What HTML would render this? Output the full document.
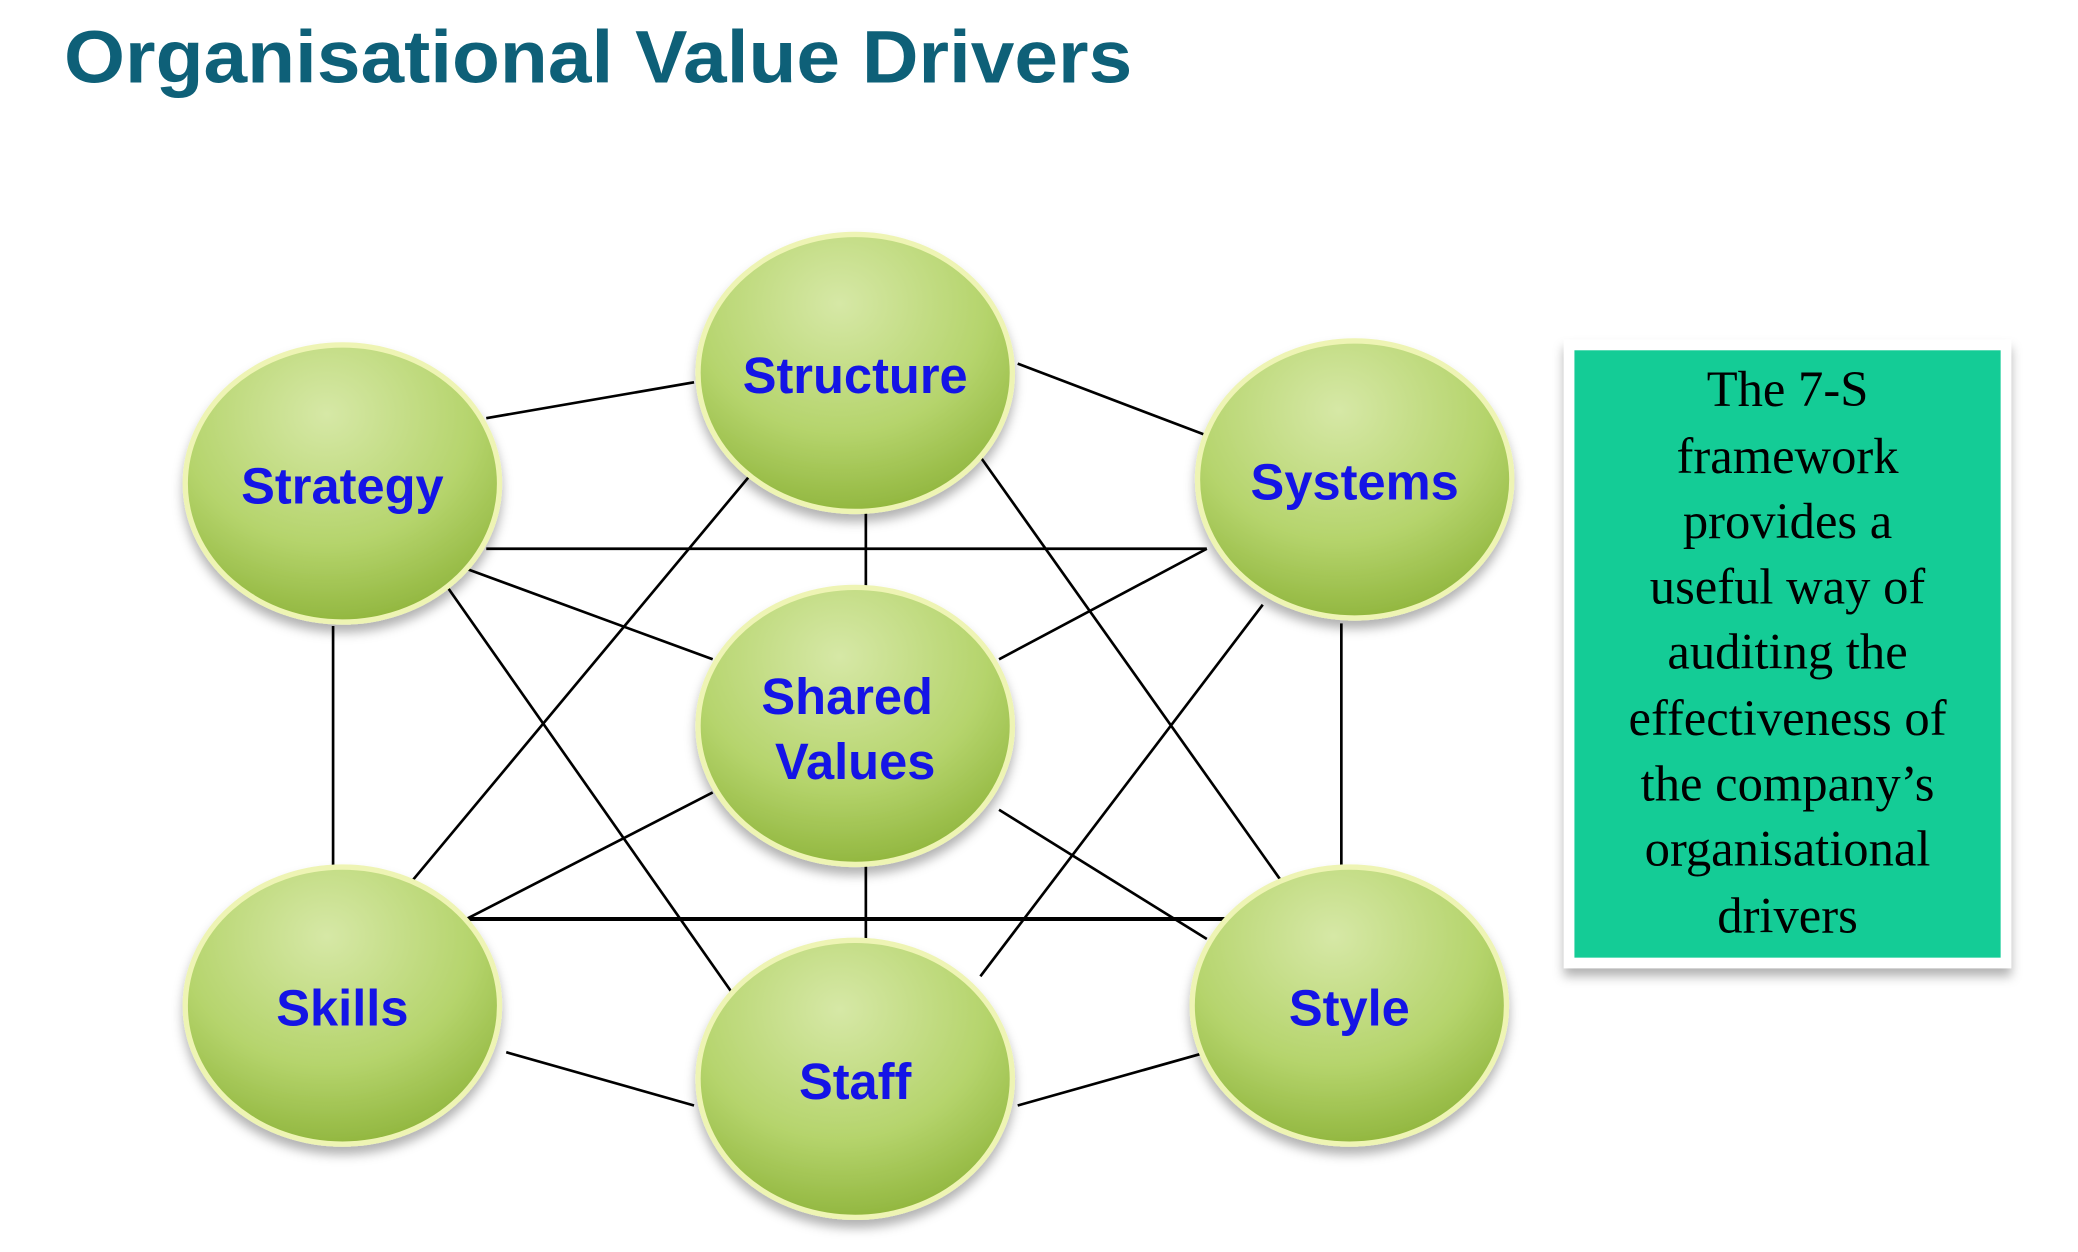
<!DOCTYPE html>
<html><head><meta charset="utf-8"><style>
html,body{margin:0;padding:0;background:#fff;}
svg{display:block;}
</style></head><body>
<svg width="2078" height="1252" viewBox="0 0 1560 940" xmlns="http://www.w3.org/2000/svg">
<defs>
<radialGradient id="g" cx="0.45" cy="0.25" r="0.85">
<stop offset="0" stop-color="#d6e8a6"/>
<stop offset="0.55" stop-color="#b5d46c"/>
<stop offset="1" stop-color="#86ad30"/>
</radialGradient>
<filter id="sh" x="-20%" y="-20%" width="140%" height="150%">
<feDropShadow dx="0" dy="6" stdDeviation="4" flood-color="#000" flood-opacity="0.3"/>
</filter>
</defs>
<text x="48" y="62" font-family="Liberation Sans, sans-serif" font-weight="bold" font-size="56" fill="#0e6078" textLength="802" lengthAdjust="spacingAndGlyphs">Organisational Value Drivers</text>
<g stroke="#000" stroke-width="2" fill="none">
<line x1="365" y1="314" x2="521" y2="287"/>
<line x1="764" y1="273" x2="906" y2="327"/>
<line x1="365" y1="412" x2="906" y2="412"/>
<line x1="350" y1="427" x2="535" y2="495"/>
<line x1="906" y1="412" x2="750" y2="495"/>
<line x1="650" y1="385" x2="650" y2="440"/>
<line x1="250" y1="470" x2="250" y2="650"/>
<line x1="1007" y1="468" x2="1007" y2="650"/>
<line x1="563" y1="357" x2="308" y2="663"/>
<line x1="736" y1="343" x2="963" y2="663"/>
<line x1="336" y1="441" x2="550" y2="746"/>
<line x1="948" y1="454" x2="736" y2="733"/>
<line x1="535" y1="595" x2="350" y2="690"/>
<line x1="750" y1="608" x2="906" y2="705"/>
<line x1="350" y1="690" x2="920" y2="690" stroke-width="3"/>
<line x1="650" y1="650" x2="650" y2="705"/>
<line x1="380" y1="790" x2="521" y2="830"/>
<line x1="764" y1="830" x2="906" y2="790"/>
</g>
<g fill="url(#g)" stroke="#eef4b4" stroke-width="4" filter="url(#sh)">
<ellipse cx="642" cy="280" rx="118" ry="104"/>
<ellipse cx="257" cy="363" rx="118" ry="104"/>
<ellipse cx="1017" cy="360" rx="118" ry="104"/>
<ellipse cx="642" cy="545" rx="118" ry="104"/>
<ellipse cx="257" cy="755" rx="118" ry="104"/>
<ellipse cx="642" cy="810" rx="118" ry="104"/>
<ellipse cx="1013" cy="755" rx="118" ry="104"/>
</g>
<g font-family="Liberation Sans, sans-serif" font-weight="bold" font-size="38" fill="#1414e6" text-anchor="middle">
<text x="642" y="295">Structure</text>
<text x="257" y="378">Strategy</text>
<text x="1017" y="375">Systems</text>
<text x="636" y="536">Shared</text>
<text x="642" y="585">Values</text>
<text x="257" y="770">Skills</text>
<text x="642" y="825">Staff</text>
<text x="1013" y="770">Style</text>
</g>
<rect x="1174" y="255" width="336" height="472" fill="#fff" filter="url(#sh)"/>
<rect x="1182" y="263" width="320" height="456" fill="#14cc96"/>
<g font-family="Liberation Serif, serif" font-size="38" fill="#000" text-anchor="middle">
<text x="1342" y="305">The 7-S</text>
<text x="1342" y="355">framework</text>
<text x="1342" y="404">provides a</text>
<text x="1342" y="453">useful way of</text>
<text x="1342" y="502">auditing the</text>
<text x="1342" y="552">effectiveness of</text>
<text x="1342" y="601">the company’s</text>
<text x="1342" y="650">organisational</text>
<text x="1342" y="700">drivers</text>
</g>
</svg>
</body></html>
